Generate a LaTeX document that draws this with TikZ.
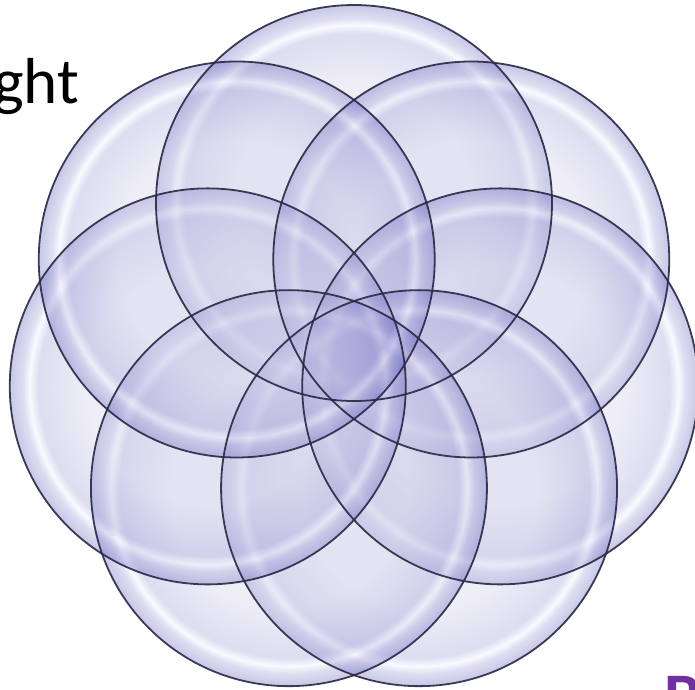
\documentclass[tikz,border=0pt]{standalone}
\usepackage{fontspec}
\setmainfont{Carlito}
\definecolor{bin}{RGB}{202,200,230}
\definecolor{bmid}{RGB}{145,143,208}
\definecolor{bhi}{RGB}{236,236,252}
\definecolor{bedge}{RGB}{72,72,178}
\definecolor{rimline}{RGB}{40,40,68}
\definecolor{titlepurple}{RGB}{112,48,160}
\pgfdeclareradialshading{bubble}{\pgfpoint{0bp}{0bp}}{color(0bp)=(bin); color(15bp)=(bin); color(21.4bp)=(bmid); color(22.5bp)=(bhi); color(23.4bp)=(bmid); color(25bp)=(bedge); color(50bp)=(bedge)}
\begin{document}
\begin{tikzpicture}[x=1pt,y=-1pt,
  bubblefill/.style={shading=bubble, fill opacity=0.3},
  bubbleline/.style={draw=rimline, line width=1.8pt, draw opacity=0.9},
  bigtext/.style={inner sep=0pt, font=\fontsize{65}{72}\selectfont}]
\useasboundingbox (0,0) rectangle (695,689);
\clip (0,0) rectangle (695,689);
\begin{scope}[shift={(354,353)}]
  \foreach \k in {0,...,6} {
    \coordinate (c\k) at ({-90+\k*360/7}:150);
  }
  \foreach \k in {0,...,6} {
    \shade[bubblefill] (c\k) circle[radius=198];
  }
  \foreach \k in {0,...,6} {
    \draw[bubbleline] (c\k) circle[radius=198];
  }
\end{scope}
\node[bigtext, anchor=base west] (word) at (-7,103) {ght};
\node[bigtext, anchor=base west, text=titlepurple, font=\fontsize{65}{72}\bfseries\selectfont] (letter) at (664,718) {B};
\end{tikzpicture}
\end{document}
